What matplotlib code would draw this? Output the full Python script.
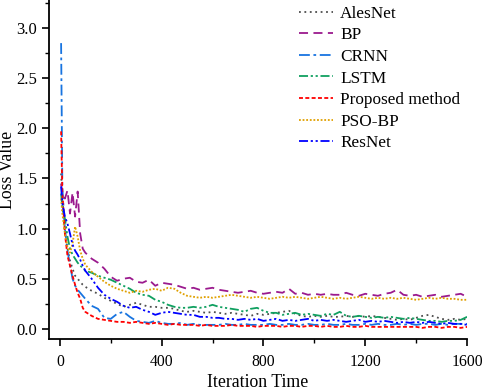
import matplotlib
matplotlib.use("Agg")
import matplotlib.pyplot as plt
from matplotlib.ticker import MultipleLocator

plt.rcParams['font.family'] = ['Liberation Serif', 'DejaVu Serif']

# iteration grid the curves were read at
iterations = [5, 10, 20, 30, 40, 50, 60, 70, 80, 90,
              100, 125, 150, 175, 200, 225, 250, 275, 300, 325,
              350, 375, 400, 425, 450, 475, 500, 525, 550, 575,
              600, 625, 650, 675, 700, 725, 750, 775, 800, 825,
              850, 875, 900, 925, 950, 975, 1000, 1025, 1050, 1075,
              1100, 1125, 1150, 1175, 1200, 1225, 1250, 1275, 1300, 1325,
              1350, 1375, 1400, 1425, 1450, 1475, 1500, 1525, 1550, 1575,
              1600]

alesnet = [1.55, 1.30, 0.95, 0.80, 0.68, 0.60, 0.53, 0.50, 0.47, 0.44,
           0.42, 0.38, 0.35, 0.31, 0.28, 0.25, 0.22, 0.24, 0.26, 0.24,
           0.22, 0.22, 0.21, 0.21, 0.20, 0.18, 0.17, 0.18, 0.17, 0.16,
           0.17, 0.16, 0.15, 0.16, 0.15, 0.14, 0.13, 0.15, 0.14, 0.15,
           0.16, 0.17, 0.18, 0.15, 0.13, 0.12, 0.13, 0.12, 0.13, 0.12,
           0.12, 0.13, 0.12, 0.13, 0.12, 0.13, 0.12, 0.11, 0.10, 0.09,
           0.10, 0.09, 0.11, 0.13, 0.14, 0.12, 0.10, 0.09, 0.10, 0.09,
           0.10]

bp = [1.45, 1.35, 1.30, 1.38, 1.15, 1.36, 1.12, 1.37, 0.95, 0.80,
      0.76, 0.70, 0.66, 0.60, 0.52, 0.48, 0.50, 0.51, 0.47, 0.46,
      0.49, 0.43, 0.46, 0.45, 0.44, 0.42, 0.40, 0.41, 0.39, 0.40,
      0.41, 0.39, 0.38, 0.37, 0.36, 0.37, 0.38, 0.36, 0.35, 0.36,
      0.37, 0.36, 0.40, 0.35, 0.36, 0.34, 0.35, 0.34, 0.35, 0.34,
      0.34, 0.36, 0.34, 0.33, 0.35, 0.34, 0.33, 0.35, 0.36, 0.39,
      0.34, 0.33, 0.34, 0.32, 0.33, 0.34, 0.32, 0.33, 0.34, 0.35,
      0.32]

crnn = [2.85, 1.40, 1.00, 0.78, 0.64, 0.50, 0.43, 0.39, 0.36, 0.33,
        0.30, 0.23, 0.20, 0.11, 0.10, 0.15, 0.17, 0.12, 0.08, 0.07,
        0.06, 0.08, 0.06, 0.05, 0.05, 0.06, 0.04, 0.05, 0.04, 0.04,
        0.04, 0.04, 0.05, 0.04, 0.04, 0.05, 0.04, 0.04, 0.04, 0.05,
        0.04, 0.04, 0.05, 0.04, 0.04, 0.05, 0.04, 0.04, 0.05, 0.04,
        0.04, 0.05, 0.04, 0.04, 0.05, 0.04, 0.05, 0.04, 0.04, 0.05,
        0.04, 0.05, 0.04, 0.05, 0.05, 0.04, 0.05, 0.04, 0.05, 0.05,
        0.05]

lstm = [1.35, 1.20, 1.10, 0.92, 0.80, 0.74, 0.70, 0.66, 0.63, 0.61,
        0.58, 0.56, 0.53, 0.51, 0.49, 0.46, 0.43, 0.40, 0.36, 0.34,
        0.33, 0.29, 0.27, 0.24, 0.22, 0.21, 0.21, 0.22, 0.21, 0.22,
        0.24, 0.22, 0.21, 0.20, 0.19, 0.17, 0.20, 0.21, 0.18, 0.16,
        0.16, 0.14, 0.15, 0.16, 0.14, 0.15, 0.14, 0.13, 0.15, 0.14,
        0.17, 0.13, 0.12, 0.13, 0.12, 0.11, 0.12, 0.11, 0.12, 0.11,
        0.10, 0.11, 0.10, 0.09, 0.08, 0.08, 0.07, 0.08, 0.08, 0.09,
        0.12]

proposed = [1.97, 1.35, 0.95, 0.73, 0.63, 0.53, 0.44, 0.36, 0.30, 0.21,
            0.17, 0.13, 0.10, 0.09, 0.08, 0.07, 0.07, 0.06, 0.07, 0.06,
            0.05, 0.06, 0.05, 0.04, 0.05, 0.04, 0.04, 0.04, 0.03, 0.04,
            0.03, 0.03, 0.03, 0.04, 0.03, 0.03, 0.03, 0.02, 0.03, 0.03,
            0.03, 0.02, 0.03, 0.03, 0.02, 0.03, 0.03, 0.02, 0.03, 0.02,
            0.02, 0.03, 0.02, 0.02, 0.03, 0.02, 0.02, 0.02, 0.02, 0.02,
            0.02, 0.02, 0.02, 0.01, 0.02, 0.02, 0.01, 0.02, 0.02, 0.01,
            0.02]

pso_bp = [1.30, 1.15, 0.95, 0.82, 0.76, 0.85, 1.02, 0.92, 0.78, 0.70,
          0.64, 0.57, 0.52, 0.47, 0.43, 0.40, 0.38, 0.36, 0.38, 0.37,
          0.39, 0.40, 0.38, 0.41, 0.40, 0.36, 0.33, 0.32, 0.31, 0.32,
          0.31, 0.32, 0.33, 0.34, 0.33, 0.32, 0.31, 0.32, 0.31, 0.30,
          0.31, 0.32, 0.31, 0.32, 0.31, 0.30, 0.31, 0.32, 0.31, 0.30,
          0.31, 0.30, 0.31, 0.32, 0.31, 0.30, 0.31, 0.30, 0.31, 0.30,
          0.31, 0.30, 0.29, 0.30, 0.31, 0.30, 0.31, 0.30, 0.30, 0.29,
          0.29]

resnet = [1.42, 1.25, 1.12, 1.05, 0.95, 0.84, 0.78, 0.74, 0.69, 0.63,
          0.58, 0.50, 0.41, 0.34, 0.30, 0.27, 0.23, 0.21, 0.22, 0.19,
          0.17, 0.14, 0.16, 0.17, 0.16, 0.15, 0.14, 0.14, 0.12, 0.12,
          0.11, 0.11, 0.10, 0.10, 0.09, 0.10, 0.09, 0.10, 0.08, 0.09,
          0.10, 0.08, 0.09, 0.08, 0.09, 0.10, 0.08, 0.09, 0.08, 0.09,
          0.08, 0.07, 0.08, 0.09, 0.07, 0.08, 0.07, 0.08, 0.07, 0.06,
          0.07, 0.06, 0.07, 0.06, 0.07, 0.06, 0.05, 0.06, 0.05, 0.05,
          0.04]

series = [
    ("AlesNet", alesnet, "#4d4d4d", (0, (1, 2))),
    ("BP", bp, "#9b1a8e", (0, (5, 3))),
    ("CRNN", crnn, "#1874e0", (0, (6, 2, 1.5, 2))),
    ("LSTM", lstm, "#10a060", (0, (5, 1.5, 1.2, 1.5, 1.2, 1.5))),
    ("Proposed method", proposed, "#ff0000", (0, (2.2, 1.3))),
    ("PSO-BP", pso_bp, "#e0a000", (0, (1, 1))),
    ("ResNet", resnet, "#0000ff", (0, (5, 1.5, 1.2, 1.5, 1.2, 1.5))),
]

fig = plt.figure(figsize=(4.84, 3.90), dpi=100)
ax = fig.add_axes([0.101, 0.131, 0.864, 0.869])

for name, vals, col, ls in series:
    ax.plot(iterations, vals, color=col, linestyle=ls, linewidth=1.3, label=name)

ax.set_xlim(-43, 1600)
ax.set_ylim(-0.1, 3.28)
ax.xaxis.set_major_locator(MultipleLocator(400))
ax.xaxis.set_minor_locator(MultipleLocator(200))
ax.yaxis.set_major_locator(MultipleLocator(0.5))
ax.yaxis.set_minor_locator(MultipleLocator(0.25))
ax.yaxis.set_major_formatter(plt.FormatStrFormatter('%.1f'))

for side in ['top', 'right']:
    ax.spines[side].set_visible(False)
for side in ['left', 'bottom']:
    ax.spines[side].set_linewidth(1.3)
ax.tick_params(which='major', direction='out', length=5, width=1.2, labelsize=12)
ax.tick_params(axis='x', which='major', pad=6, labelsize=11.3)
ax.tick_params(which='minor', direction='out', length=3, width=1.0)

ax.set_xlabel("Iteration Time", fontsize=12.8)
ax.set_ylabel("Loss Value", fontsize=12.8)
ax.xaxis.set_label_coords(0.5, -0.105)
ax.yaxis.set_label_coords(-0.078, 0.5)

ax.legend(loc='upper left', bbox_to_anchor=(0.585, 1.025), bbox_transform=fig.transFigure,
          frameon=False, fontsize=12.4, handlelength=2.0, handletextpad=0.4,
          labelspacing=0.32)

fig.savefig("out.png", dpi=100)
